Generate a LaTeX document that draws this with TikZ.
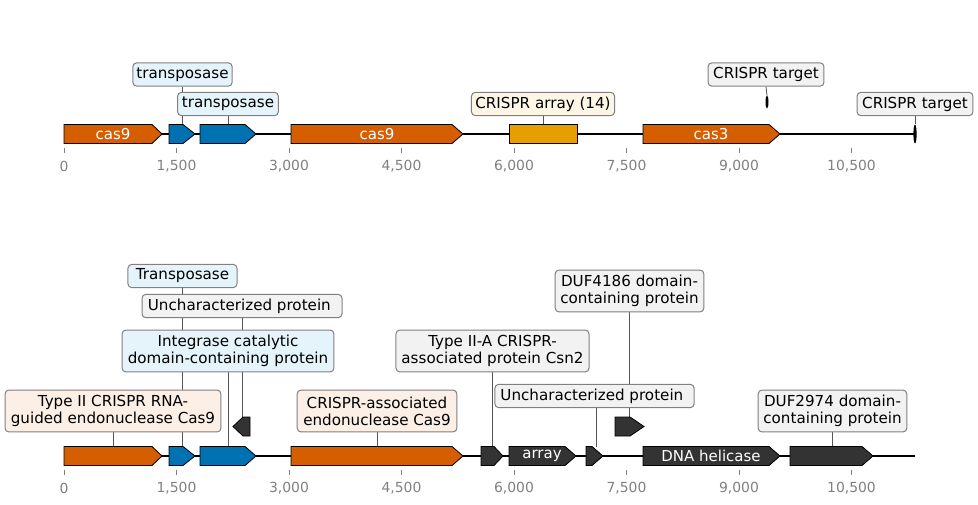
\documentclass[tikz,border=0pt]{standalone}
\usepackage{fontspec}
\setmainfont{DejaVu Sans}
\usetikzlibrary{backgrounds}
\definecolor{corange}{HTML}{D55E00}
\definecolor{cblue}{HTML}{0072B2}
\definecolor{cyellow}{HTML}{E69F00}
\definecolor{cdark}{HTML}{333333}
\definecolor{lorange}{HTML}{FCEFE6}
\definecolor{lblue}{HTML}{E5F4FB}
\definecolor{lyellow}{HTML}{FDF5E6}
\definecolor{lgrey}{HTML}{F2F2F2}
\definecolor{bordergrey}{HTML}{808080}
\definecolor{tickgrey}{HTML}{808080}
\definecolor{leadgrey}{HTML}{555555}
\tikzset{
  lbl/.style={draw=bordergrey, line width=0.72pt, rounded corners=2.8pt, align=center,
    font=\fontsize{10.9}{12.2}\selectfont, inner xsep=1.5pt, inner ysep=0pt, minimum height=16.8pt},
  lbltwo/.style={lbl, minimum height=30.2pt},
  genebox/.style={draw=black, line width=0.6pt},
  genetext/.style={text=white, font=\fontsize{10.8}{12}\selectfont, inner sep=0pt},
  ticklbl/.style={text=tickgrey, font=\fontsize{10}{12}\selectfont, inner sep=0pt},
  leader/.style={draw=leadgrey, line width=0.6pt},
  track/.style={draw=black, line width=1.1pt},
  tickmark/.style={draw=tickgrey, line width=0.6pt}
}
% forward gene: start, head start, tip, y mid, colour
\newcommand\fwdgene[5]{\fill[#5, genebox] (#1,{#4-9.5}) -- (#2,{#4-9.5}) -- (#3,#4) -- (#2,{#4+9.5}) -- (#1,{#4+9.5}) -- cycle;}
% reverse gene: tip, head start, end, y mid, colour
\newcommand\revgene[5]{\fill[#5, genebox] (#3,{#4-9.5}) -- (#2,{#4-9.5}) -- (#1,#4) -- (#2,{#4+9.5}) -- (#3,{#4+9.5}) -- cycle;}
\begin{document}
\begin{tikzpicture}[x=0.72pt, y=-0.72pt]
\useasboundingbox (0,0) rectangle (978,505);

%================ TOP TRACK =================
\coordinate (tstart) at (64,134);
\coordinate (tend) at (915,134);
\draw[track] (tstart) -- (tend);
\foreach \x/\t in {64/0, 176.5/{1,500}, 289/{3,000}, 401.5/{4,500}, 514/{6,000}, 626.5/{7,500}, 739/{9,000}, 851.5/{10,500}}{
  \draw[tickmark] (\x,148) -- (\x,153);
  \node[ticklbl] at (\x,166) {\t};
}
\fwdgene{64}{152}{162}{134}{corange}
\node[genetext] at (113,134) {cas9};
\fwdgene{169}{183}{195}{134}{cblue}
\fwdgene{200}{245}{256}{134}{cblue}
\fwdgene{291}{452}{463}{134}{corange}
\node[genetext] at (377,134) {cas9};
\filldraw[cyellow, genebox] (509,124.5) rectangle (577,143.5);
\fwdgene{643}{769}{780}{134}{corange}
\node[genetext] at (711,134) {cas3};
\fill[black] (767,102) ellipse [x radius=1.5, y radius=6.5];
\fill[black] (915,134) ellipse [x radius=1.6, y radius=9.5];

\coordinate (gtp1) at (182,124.5);
\coordinate (gtp2) at (228,124.5);
\coordinate (garr) at (543,124.5);
\coordinate (gct1) at (767,95.5);
\coordinate (gct2) at (915,124.5);

\node[lbl, fill=lblue, minimum width=71.5pt] (ta) at (182.5,74.5) {transposase};
\node[lbl, fill=lblue, minimum width=72.5pt] (tb) at (228,104) {transposase};
\node[lbl, fill=lyellow, minimum width=103pt] (tarr) at (543,104) {CRISPR array (14)};
\node[lbl, fill=lgrey, minimum width=83.5pt] (tct1) at (766,74.5) {CRISPR target};
\node[lbl, fill=lgrey, minimum width=83.5pt] (tct2) at (915,104) {CRISPR target};

\begin{scope}[on background layer]
\draw[leader] (ta.south) -- (ta.south |- gtp1);
\draw[leader] (tb.south) -- (tb.south |- gtp2);
\draw[leader] (tarr.south) -- (tarr.south |- garr);
\draw[leader] (tct1.south) -- (gct1);
\draw[leader] (tct2.south) -- (tct2.south |- gct2);
\end{scope}

%================ BOTTOM TRACK =================
\coordinate (bstart) at (64,456);
\coordinate (bend) at (915,456);
\draw[track] (bstart) -- (bend);
\foreach \x/\t in {64/0, 176.5/{1,500}, 289/{3,000}, 401.5/{4,500}, 514/{6,000}, 626.5/{7,500}, 739/{9,000}, 851.5/{10,500}}{
  \draw[tickmark] (\x,470) -- (\x,475);
  \node[ticklbl] at (\x,488) {\t};
}
\fwdgene{64}{152}{162}{456}{corange}
\fwdgene{169}{183}{195}{456}{cblue}
\fwdgene{200}{245}{256}{456}{cblue}
\revgene{233}{243}{250}{426.5}{cdark}
\fwdgene{291}{452}{463}{456}{corange}
\fwdgene{481}{494}{503}{456}{cdark}
\fwdgene{509}{565}{576}{456}{cdark}
\node[genetext] at (542,456) {array};
\fwdgene{586}{592}{603}{456}{cdark}
\fwdgene{615}{630}{644}{426.5}{cdark}
\fwdgene{643}{769}{780}{456}{cdark}
\node[genetext] at (711,456) {DNA helicase};
\fwdgene{790}{862}{873}{456}{cdark}

\coordinate (bg1) at (113,446.5);
\coordinate (bg2) at (182,446.5);
\coordinate (bg3) at (228,446.5);
\coordinate (bgrev) at (242,417);
\coordinate (bg5) at (377,446.5);
\coordinate (bg6) at (493,446.5);
\coordinate (bg8) at (596,446.5);
\coordinate (bgraise) at (630,417);
\coordinate (bg11) at (832,446.5);

\node[lbl, fill=lblue, minimum width=78.5pt] (bt) at (182.5,276) {Transposase};
\node[lbl, fill=lgrey, minimum width=144pt] (bu1) at (242,306) {Uncharacterized protein\hspace{0.35em}};
\node[lbltwo, fill=lblue, minimum width=152.5pt] (bint) at (228,351) {Integrase catalytic\\domain-containing protein};
\node[lbltwo, fill=lorange, minimum width=155.5pt] (bc9a) at (113,411) {Type II CRISPR RNA-\\guided endonuclease Cas9};
\node[lbltwo, fill=lorange, minimum width=115pt] (bc9b) at (377,411) {CRISPR-associated\\endonuclease Cas9};
\node[lbltwo, fill=lgrey, minimum width=139pt] (bcsn) at (492.5,351) {Type II-A CRISPR-\\associated protein Csn2};
\node[lbl, fill=lgrey, minimum width=143.5pt] (bu2) at (594.5,396) {Uncharacterized protein\hspace{0.35em}};
\node[lbltwo, fill=lgrey, minimum width=107pt] (bduf1) at (629.5,291) {DUF4186 domain-\\containing protein};
\node[lbltwo, fill=lgrey, minimum width=107pt] (bduf2) at (832.5,411) {DUF2974 domain-\\containing protein};

\begin{scope}[on background layer]
\draw[leader] (bt.south) -- (bt.south |- bg2);
\draw[leader] (bu1.south) -- (bu1.south |- bgrev);
\draw[leader] (bint.south) -- (bint.south |- bg3);
\draw[leader] (bc9a.south) -- (bc9a.south |- bg1);
\draw[leader] (bc9b.south) -- (bc9b.south |- bg5);
\draw[leader] (bcsn.south) -- (bcsn.south |- bg6);
\draw[leader] (bg8 |- bu2.south) -- (bg8);
\draw[leader] (bduf1.south) -- (bduf1.south |- bgraise);
\draw[leader] (bduf2.south) -- (bduf2.south |- bg11);
\end{scope}
\end{tikzpicture}
\end{document}
